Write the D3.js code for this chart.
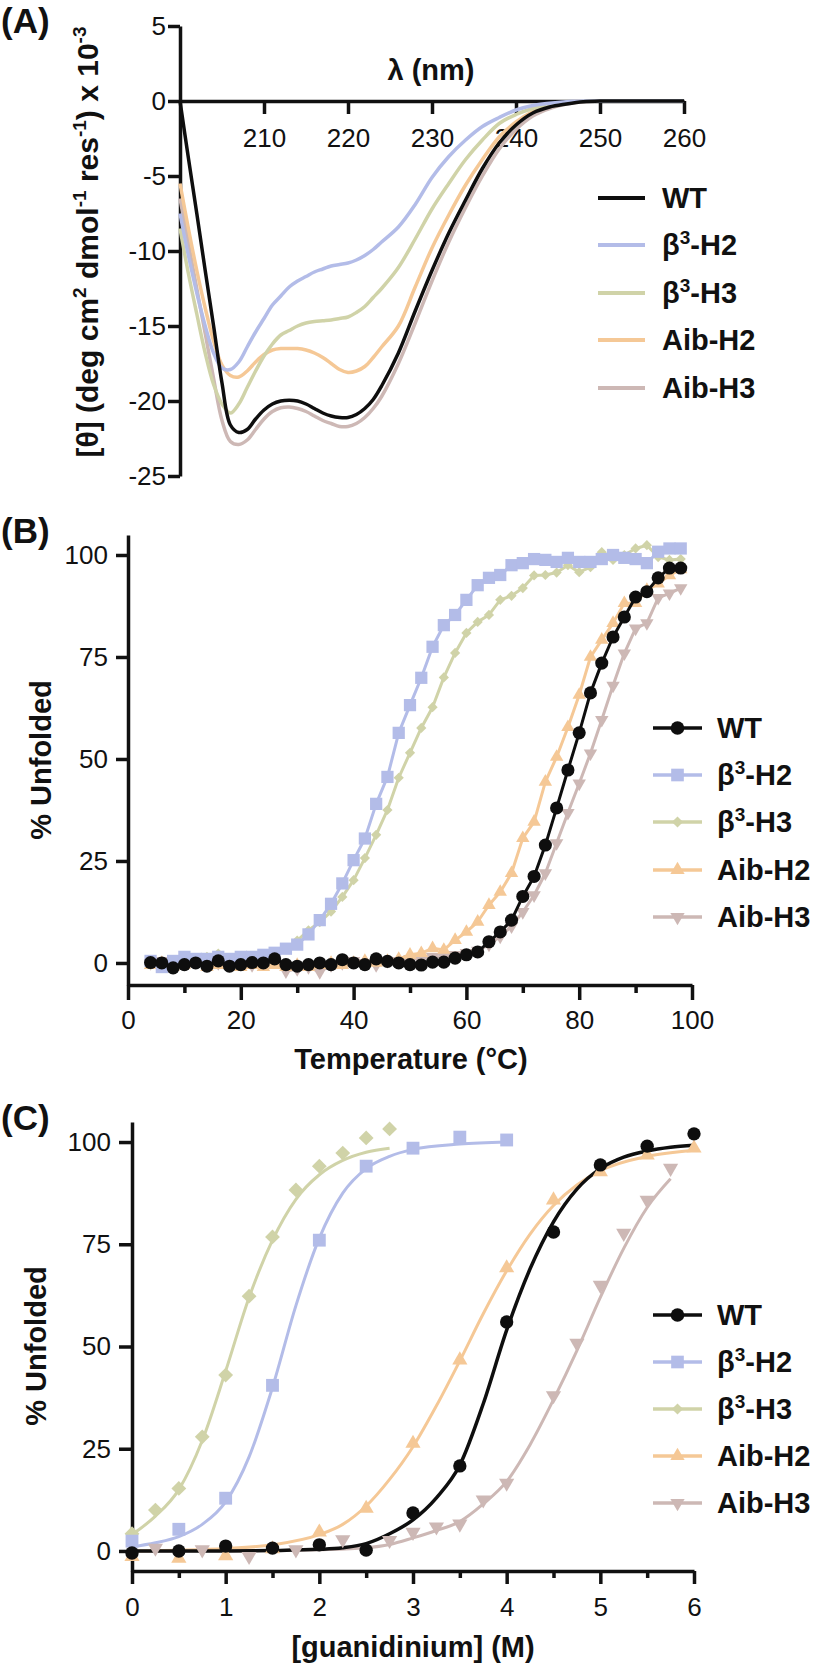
<!DOCTYPE html>
<html>
<head>
<meta charset="utf-8">
<script src="https://cdn.jsdelivr.net/npm/d3@7"></script>
<style>
  body { margin: 0; background: #fff; }
  svg  { display: block; font-family: "Liberation Sans", Arial, sans-serif; }
</style>
</head>
<body>
<svg id="fig" width="819" height="1667"></svg>
<script>
// ─── Series names (shared by all three panels) ───────────────────────────────
// each name is [base, superscript, rest]
const seriesNames = [['WT', '', ''], ['β', '3', '-H2'], ['β', '3', '-H3'], ['Aib-H2', '', ''], ['Aib-H3', '', '']];

// ─── (A) CD spectra, [θ] x 10^-3 ─────────────────────────────────────────────
const cdWavelength = [200, 201, 202, 203, 204, 205, 206, 207, 208, 209, 210, 211, 212,
  213, 214, 215, 216, 217, 218, 219, 220, 221, 222, 223, 224,
  226, 228, 230, 232, 234, 236, 238, 240, 242, 244, 246, 248, 250, 255, 260];
const cdWT = [0, -3.8, -7.5, -11.3, -15, -18.8, -21.6, -22.1, -21.9, -21.2, -20.6, -20.2, -20.0,
  -19.95, -20.0, -20.2, -20.5, -20.8, -21.0, -21.1, -21.1, -20.9, -20.5, -19.9, -19.0,
  -16.8, -14.0, -11.3, -8.8, -6.6, -4.5, -2.8, -1.6, -0.8, -0.4, -0.2, -0.05, 0, 0, 0];
const cdB3H2 = [-7.5, -10.3, -12.8, -15.0, -16.8, -17.8, -17.9, -17.4, -16.4, -15.4, -14.5, -13.6, -13.0,
  -12.4, -12.0, -11.7, -11.4, -11.2, -11.0, -10.9, -10.8, -10.6, -10.3, -9.9, -9.4,
  -8.4, -6.9, -5.1, -3.7, -2.6, -1.7, -1.1, -0.6, -0.3, -0.15, -0.05, 0, 0, 0, 0];
const cdB3H3 = [-8.5, -11.5, -14.2, -16.8, -18.9, -20.2, -20.8, -20.2, -19.1, -18.0, -17.0, -16.2, -15.6,
  -15.3, -15.0, -14.8, -14.7, -14.65, -14.6, -14.5, -14.4, -14.1, -13.7, -13.1, -12.5,
  -11.1, -9.2, -7.2, -5.5, -3.9, -2.6, -1.5, -0.9, -0.5, -0.25, -0.1, 0, 0, 0, 0];
const cdAibH2 = [-5.5, -8.5, -11.3, -13.8, -16.0, -17.6, -18.3, -18.4, -18.0, -17.4, -16.9, -16.6, -16.5,
  -16.5, -16.5, -16.6, -16.8, -17.1, -17.5, -17.9, -18.1, -18.0, -17.7, -17.1, -16.4,
  -15.0, -12.4, -9.8, -7.6, -5.6, -3.9, -2.4, -1.4, -0.7, -0.3, -0.1, 0, 0, 0, 0];
const cdAibH3 = [-6.5, -9.5, -12.5, -15.5, -18.5, -21.3, -22.7, -22.9, -22.6, -21.9, -21.2, -20.7, -20.45,
  -20.4, -20.5, -20.7, -21.0, -21.3, -21.5, -21.7, -21.7, -21.5, -21.1, -20.5, -19.7,
  -17.5, -14.8, -12.0, -9.4, -7.1, -5.0, -3.2, -1.9, -1.0, -0.5, -0.2, -0.05, 0, 0, 0];
const cdTicksX = [210, 220, 230, 240, 250, 260];
const cdTicksY = [5, 0, -5, -10, -15, -20, -25];

// ─── (B) thermal melts, % unfolded ───────────────────────────────────────────
const tempC = [4, 6, 8, 10, 12, 14, 16, 18, 20, 22, 24, 26, 28, 30, 32, 34, 36, 38, 40, 42, 44, 46, 48, 50,
  52, 54, 56, 58, 60, 62, 64, 66, 68, 70, 72, 74, 76, 78, 80, 82, 84, 86, 88, 90, 92, 94, 96, 98];
const meltWT = [0.1, 0, -1.2, -0.4, 0, -0.8, 0.5, -0.8, -0.4, 0.1, 0, 1, -0.4, -0.8, -0.4, 0, -0.4, 0.8, 0, -0.4, 1, 0.4, 0, -0.4,
  -0.5, 0.2, 0.2, 1.2, 2, 2.7, 5.2, 7.6, 10.5, 16.3, 21.2, 28.9, 38, 47.3, 56.4, 66.2, 73.5, 79.9, 84.8, 89.7, 91, 94.4, 96.8, 96.8];
const meltB3H2 = [0.5, -1, 0.5, 1.5, 1, 1, 1.5, 1, 1.5, 1.5, 2, 2.5, 3.5, 4.5, 7, 10.5, 14.5, 19.5, 25.2, 30.5, 39, 45.6, 56.4, 63.2,
  69.9, 77.5, 82.8, 85.3, 89, 92.6, 94.4, 95.1, 97.5, 98, 99, 98.8, 98.3, 99.3, 98.3, 98.3, 99, 100, 99.3, 99, 98, 100.8, 101.6, 101.6];
const meltB3H3 = [-0.5, -1, 0, 0.5, 1, 1.5, 2.3, 1, 1, 1.5, 1.5, 2.5, 3.5, 5.5, 8, 10, 12.6, 16.2, 20.3, 25.7, 31.4, 37.5, 45.4, 51.5,
  57.6, 62.7, 70, 76, 80.9, 83.6, 85.3, 89, 90, 91.9, 95, 95.1, 95.7, 97.5, 95.8, 97, 100.7, 98.8, 100, 101.6, 102.4, 99.5, 98.8, 99];
const meltAibH2 = [-0.5, 0, -1, -0.5, 0, -1, -0.5, 0, -1, -0.5, -1, -0.5, -1, -0.5, -1, -0.5, 0, -0.5, 0, 0.5, 0, 0.5, 1, 2,
  2.4, 3.6, 3.2, 5.6, 7.6, 10.1, 14.2, 17.4, 22, 30.6, 34.6, 44.4, 50.5, 57.8, 65.7, 75, 79.2, 83.3, 88.2, 88.2, 91.4, 93, 95, 96.5];
const meltAibH3 = [0, 0.5, -0.5, 0, 0.5, -0.5, 0, 0.5, 0, -0.5, 0, 0.5, -2, -1.5, -1, -2.2, -0.5, 0, 0.5, 0, -0.5, 0.5, 0.5, 1,
  1, 1.5, 1.5, 2, 2.5, 3, 4.5, 6.5, 9, 12.5, 16.6, 22, 29.4, 36.8, 44, 51.4, 59.6, 68, 75.9, 82, 83.3, 89.5, 90.6, 91.9];
const meltTicksMajor = [0, 20, 40, 60, 80, 100];
const meltTicksMinor = [10, 30, 50, 70, 90];
const pctTicks = [0, 25, 50, 75, 100];

// ─── (C) chemical denaturation: measured points ──────────────────────────────
const gdmWTx    = [0, 0.5, 1, 1.5, 2, 2.5, 3, 3.5, 4, 4.5, 5, 5.5, 6];
const gdmWTy    = [-0.5, 0, 1.2, 0.7, 1.5, 0.2, 9.3, 20.8, 56, 78, 94.4, 99, 102];
const gdmB3H2x  = [0, 0.5, 1, 1.5, 2, 2.5, 3, 3.5, 4];
const gdmB3H2y  = [2.4, 5.3, 12.9, 40.5, 76, 94.1, 98.5, 101.2, 100.5];
const gdmB3H3x  = [0, 0.25, 0.5, 0.75, 1, 1.25, 1.5, 1.75, 2, 2.25, 2.5, 2.75];
const gdmB3H3y  = [4.2, 10, 15.3, 27.9, 43, 62.3, 76.8, 88.3, 94.1, 97.3, 101, 103.2];
const gdmAibH2x = [0, 0.5, 1, 1.5, 2, 2.5, 3, 3.5, 4, 4.5, 5, 5.5, 6];
const gdmAibH2y = [-1.4, -1.8, -1.2, 0.5, 4.6, 10.4, 26.3, 46.7, 69.2, 85.8, 92.7, 96.8, 98.5];
const gdmAibH3x = [0.25, 0.75, 1.25, 1.75, 2.25, 2.75, 3, 3.25, 3.5, 3.75, 4, 4.5, 4.75, 5, 5.25, 5.5, 5.75];
const gdmAibH3y = [0.7, 0.3, -1.3, 0.3, 2.8, 2.6, 4.6, 5.9, 6.6, 12.5, 16.6, 38, 50.8, 65, 77.7, 85.8, 93.6];

// ─── (C) fitted curves ───────────────────────────────────────────────────────
const fitWTx    = [0, 0.5, 1, 1.5, 2, 2.25, 2.5, 2.75, 3, 3.25, 3.5, 3.75, 4, 4.25, 4.5, 4.75, 5, 5.25, 5.5, 5.75, 6];
const fitWTy    = [0, 0, 0, 0.1, 0.4, 0.8, 1.8, 4.2, 7.6, 13, 21, 36, 54, 69, 80.5, 88.5, 93.5, 96.3, 97.8, 98.7, 99.2];
const fitB3H2x  = [0, 0.25, 0.5, 0.75, 1, 1.25, 1.5, 1.75, 2, 2.25, 2.5, 2.75, 3, 3.5, 4];
const fitB3H2y  = [1, 2, 3.5, 6.5, 12, 23, 40, 60, 76.5, 87.5, 93.5, 96.5, 98.2, 99.5, 100];
const fitB3H3x  = [0, 0.25, 0.5, 0.75, 1, 1.25, 1.5, 1.75, 2, 2.25, 2.5, 2.75];
const fitB3H3y  = [4, 8.5, 15, 27, 44, 62, 76, 86, 92, 95.5, 97.5, 98.5];
const fitAibH2x = [0, 0.5, 1, 1.5, 2, 2.25, 2.5, 2.75, 3, 3.25, 3.5, 3.75, 4, 4.25, 4.5, 4.75, 5, 5.5, 6];
const fitAibH2y = [0, 0.2, 0.6, 1.5, 4, 6.5, 11, 17.5, 25.5, 35.5, 46.5, 58, 68.5, 77.5, 84.5, 89.5, 93, 96.5, 98];
const fitAibH3x = [0, 0.5, 1, 1.5, 2, 2.5, 2.75, 3, 3.25, 3.5, 3.75, 4, 4.25, 4.5, 4.75, 5, 5.25, 5.5, 5.75];
const fitAibH3y = [0, 0, 0.05, 0.1, 0.3, 0.8, 1.6, 3.2, 5, 7.2, 11.5, 17, 26, 37, 49, 62, 74, 84, 91];
const gdmTicksMajor = [0, 1, 2, 3, 4, 5, 6];
const gdmTicksMinor = [0.5, 1.5, 2.5, 3.5, 4.5, 5.5];

// ─── Styles ──────────────────────────────────────────────────────────────────
const INK    = '#111';
const COLORS = ['#0e0e0e', '#b3bce8', '#d0d3a8', '#f5c896', '#cdb8b5'];
const SYMS   = [d3.symbolCircle, d3.symbolSquare, d3.symbolSquare, d3.symbolTriangle, d3.symbolTriangle];
const ROTS   = [0, 0, 45, 0, 180];
const SIZE_B = [135, 150, 52, 78, 78];
const SIZE_C = [140, 165, 110, 100, 100];
const ORDER  = [4, 3, 2, 1, 0];   // WT drawn last, on top

const svg = d3.select('#fig');
const plain = d => String(d);

function styleAxis(sel) {
  sel.attr('font-family', null).attr('font-size', null);
  sel.selectAll('path.domain').attr('stroke', INK).attr('stroke-width', 3.5);
  sel.selectAll('.tick line').attr('stroke', INK).attr('stroke-width', 3.5);
  sel.selectAll('.tick text').attr('fill', INK).attr('font-size', 26);
}

function marker(g, i, x, y, size) {
  g.append('path')
    .attr('d', d3.symbol().type(SYMS[i]).size(size)())
    .attr('transform', `translate(${x},${y}) rotate(${ROTS[i]})`)
    .attr('fill', COLORS[i]);
}

function boldText(g, x, y, txt, size, anchor) {
  return g.append('text').attr('x', x).attr('y', y)
    .attr('font-size', size).attr('font-weight', 700).attr('fill', INK)
    .attr('text-anchor', anchor || 'start').text(txt);
}

function legendLabel(g, x, y, parts) {
  const t = g.append('text').attr('x', x).attr('y', y)
    .attr('font-size', 29).attr('font-weight', 700).attr('fill', INK);
  t.append('tspan').text(parts[0]);
  if (parts[1]) {
    t.append('tspan').attr('dy', -11).attr('font-size', 19).text(parts[1]);
    t.append('tspan').attr('dy', 11).text(parts[2]);
  }
}

function yTitle(g, x, y, txt) {
  g.append('text').attr('transform', `translate(${x},${y}) rotate(-90)`)
    .attr('text-anchor', 'middle').attr('font-size', 29).attr('font-weight', 700)
    .attr('fill', INK).text(txt);
}

// ─── Panel A ─────────────────────────────────────────────────────────────────
const xA = d3.scaleLinear().domain([200, 260]).range([180, 684]);
const yA = d3.scaleLinear().domain([5, -25]).range([26, 476]);
const gA = svg.append('g');

gA.append('g').attr('transform', `translate(0,${yA(0)})`)
  .call(d3.axisBottom(xA).tickValues(cdTicksX).tickSize(13).tickPadding(15)
    .tickSizeOuter(0).tickFormat(plain))
  .call(styleAxis);
gA.append('g').attr('transform', `translate(${xA(200)},0)`)
  .call(d3.axisLeft(yA).tickValues(cdTicksY).tickSize(12).tickPadding(2)
    .tickSizeOuter(0).tickFormat(plain))
  .call(styleAxis);

const cdSeries = [cdWT, cdB3H2, cdB3H3, cdAibH2, cdAibH3];
const lineA = d3.line().x((d, i) => xA(cdWavelength[i])).y(d => yA(d)).curve(d3.curveCatmullRom);
ORDER.forEach(i => {
  gA.append('path').attr('d', lineA(cdSeries[i]))
    .attr('fill', 'none').attr('stroke', COLORS[i]).attr('stroke-width', 3.5)
    .attr('stroke-linejoin', 'round');
});

boldText(gA, 431, 80, 'λ (nm)', 29, 'middle');

// y title with superscripts
const tA = gA.append('text').attr('transform', 'translate(98,242) rotate(-90)')
  .attr('text-anchor', 'middle').attr('font-size', 30).attr('font-weight', 700).attr('fill', INK);
let shift = 0;
[['[θ] (deg cm', 0], ['2', 1], [' dmol', 0], ['-1', 1], [' res', 0], ['-1', 1], [') x 10', 0], ['-3', 1]]
  .forEach(([s, sup]) => {
    const target = sup ? -12 : 0;
    tA.append('tspan').attr('dy', target - shift).attr('font-size', sup ? 19 : 30).text(s);
    shift = target;
  });

const legA = [198, 245, 293, 340, 388];
seriesNames.forEach((n, i) => {
  gA.append('line').attr('x1', 598).attr('x2', 645).attr('y1', legA[i]).attr('y2', legA[i])
    .attr('stroke', COLORS[i]).attr('stroke-width', 4);
  legendLabel(gA, 662, legA[i] + 10, n);
});

boldText(gA, 1, 33, '(A)', 35);

// ─── Panel B ─────────────────────────────────────────────────────────────────
const xB = d3.scaleLinear().domain([0, 100]).range([128, 692]);
const yB = d3.scaleLinear().domain([-5.4, 104.9]).range([985, 535]);
const gB = svg.append('g');

gB.append('g').attr('transform', `translate(0,${yB.range()[0]})`)
  .call(d3.axisBottom(xB).tickValues(meltTicksMajor).tickSize(15).tickPadding(11)
    .tickSizeOuter(0).tickFormat(plain))
  .call(styleAxis);
gB.append('g').attr('transform', `translate(0,${yB.range()[0]})`)
  .call(d3.axisBottom(xB).tickValues(meltTicksMinor).tickSize(8).tickFormat(''))
  .call(styleAxis).call(g => g.select('.domain').remove());
gB.append('g').attr('transform', `translate(${xB(0)},0)`)
  .call(d3.axisLeft(yB).tickValues(pctTicks).tickSize(12).tickPadding(8)
    .tickSizeOuter(0).tickFormat(plain))
  .call(styleAxis);

const meltSeries = [meltWT, meltB3H2, meltB3H3, meltAibH2, meltAibH3];
const lineB = d3.line().x((d, i) => xB(tempC[i])).y(d => yB(d));
ORDER.forEach(i => {
  gB.append('path').attr('d', lineB(meltSeries[i]))
    .attr('fill', 'none').attr('stroke', COLORS[i]).attr('stroke-width', 3)
    .attr('stroke-linejoin', 'round');
  meltSeries[i].forEach((v, k) => marker(gB, i, xB(tempC[k]), yB(v), SIZE_B[i]));
});

boldText(gB, 411, 1069, 'Temperature (°C)', 29, 'middle');
yTitle(gB, 51, 760, '% Unfolded');

const legB = [728, 775, 822, 870, 917];
seriesNames.forEach((n, i) => {
  gB.append('line').attr('x1', 653).attr('x2', 702).attr('y1', legB[i]).attr('y2', legB[i])
    .attr('stroke', COLORS[i]).attr('stroke-width', 3.5);
  marker(gB, i, 677.5, legB[i], SIZE_B[i] + 10);
  legendLabel(gB, 717, legB[i] + 10, n);
});

boldText(gB, 1, 543, '(B)', 35);

// ─── Panel C ─────────────────────────────────────────────────────────────────
const xC = d3.scaleLinear().domain([0, 6]).range([132, 694]);
const yC = d3.scaleLinear().domain([-4.9, 104.9]).range([1571, 1122]);
const gC = svg.append('g');

gC.append('g').attr('transform', `translate(0,${yC.range()[0]})`)
  .call(d3.axisBottom(xC).tickValues(gdmTicksMajor).tickSize(13).tickPadding(14)
    .tickSizeOuter(0).tickFormat(plain))
  .call(styleAxis);
gC.append('g').attr('transform', `translate(0,${yC.range()[0]})`)
  .call(d3.axisBottom(xC).tickValues(gdmTicksMinor).tickSize(7).tickFormat(''))
  .call(styleAxis).call(g => g.select('.domain').remove());
gC.append('g').attr('transform', `translate(${xC(0)},0)`)
  .call(d3.axisLeft(yC).tickValues(pctTicks).tickSize(13).tickPadding(8)
    .tickSizeOuter(0).tickFormat(plain))
  .call(styleAxis);

const ptsX = [gdmWTx, gdmB3H2x, gdmB3H3x, gdmAibH2x, gdmAibH3x];
const ptsY = [gdmWTy, gdmB3H2y, gdmB3H3y, gdmAibH2y, gdmAibH3y];
const fitX = [fitWTx, fitB3H2x, fitB3H3x, fitAibH2x, fitAibH3x];
const fitY = [fitWTy, fitB3H2y, fitB3H3y, fitAibH2y, fitAibH3y];

ORDER.forEach(i => {
  const lineC = d3.line().x((d, k) => xC(fitX[i][k])).y(d => yC(d)).curve(d3.curveMonotoneX);
  gC.append('path').attr('d', lineC(fitY[i]))
    .attr('fill', 'none').attr('stroke', COLORS[i]).attr('stroke-width', i === 0 ? 3.5 : 3);
});
ORDER.forEach(i => {
  ptsY[i].forEach((v, k) => marker(gC, i, xC(ptsX[i][k]), yC(v), SIZE_C[i]));
});

boldText(gC, 413, 1657, '[guanidinium] (M)', 29, 'middle');
yTitle(gC, 46, 1346, '% Unfolded');

const legC = [1315, 1362, 1409, 1456, 1503];
seriesNames.forEach((n, i) => {
  gC.append('line').attr('x1', 653).attr('x2', 702).attr('y1', legC[i]).attr('y2', legC[i])
    .attr('stroke', COLORS[i]).attr('stroke-width', 3.5);
  marker(gC, i, 677.5, legC[i], SIZE_B[i] + 10);
  legendLabel(gC, 717, legC[i] + 10, n);
});

boldText(gC, 1, 1130, '(C)', 35);
</script>
</body>
</html>
